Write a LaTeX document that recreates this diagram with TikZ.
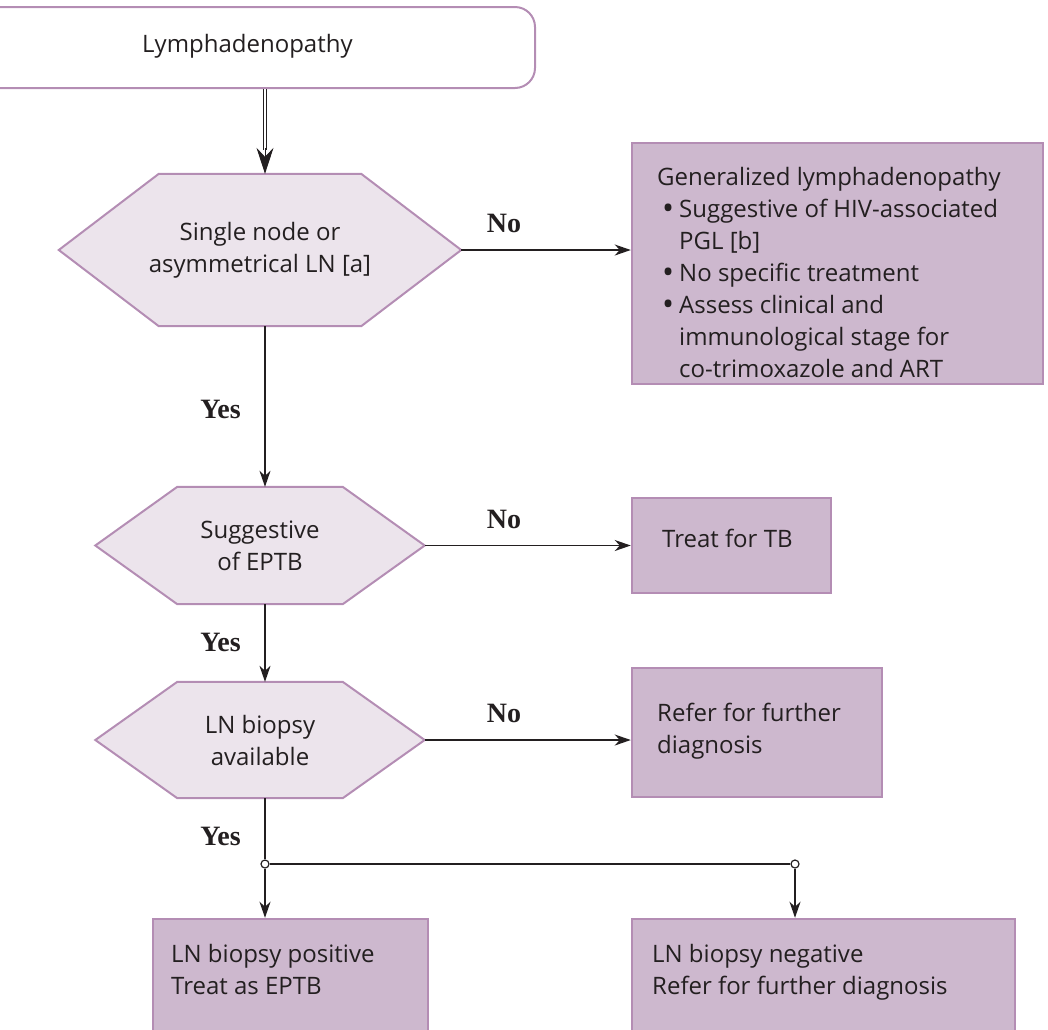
\documentclass[tikz,border=0pt]{standalone}
\usepackage{fontspec}
\setmainfont{Open Sans}
\newfontfamily\lblfont{Liberation Serif}
\usetikzlibrary{arrows.meta,backgrounds}
\definecolor{edgec}{HTML}{B48DB4}
\definecolor{hexfill}{HTML}{ECE4EC}
\definecolor{boxfill}{HTML}{CDB8CE}
\definecolor{ink}{HTML}{231F20}
\newcommand\mybul{\makebox[22pt][l]{\hspace{5pt}\raisebox{-2.5pt}{\fontsize{32}{32}\selectfont •}}}
\newcommand\myind{\hspace*{22pt}}
\begin{document}
\begin{tikzpicture}[x=1pt,y=-1pt,
  txt/.style={font=\fontsize{24}{32}\selectfont, text=ink, inner sep=0pt},
  hexnode/.style={font=\fontsize{24}{32}\selectfont, text=ink, align=center, inner sep=0pt},
  hexshape/.style={draw=edgec, fill=hexfill, line width=2pt},
  boxshape/.style={draw=edgec, fill=boxfill, line width=2.5pt, inner sep=0pt},
  lbl/.style={font=\lblfont\bfseries\fontsize{28}{28}\selectfont, text=ink, inner sep=0pt},
  conn/.style={line width=1.3pt, draw=ink},
  arr/.style={conn, -{Stealth[length=16pt,width=11pt,inset=5pt]}},
  bigarr/.style={line width=0.9pt, draw=ink, -{Stealth[length=26pt,width=17pt,inset=9pt]}},
  dbl/.style={draw=ink, double=white, double distance=2.5pt, line width=0.9pt},
  jdot/.style={circle, draw=ink, fill=white, line width=1.2pt, minimum size=8pt, inner sep=0pt},
]
\useasboundingbox (0,0) rectangle (1048,1029);

% start box
\node[draw=edgec, line width=2pt, rounded corners=20pt, minimum width=575pt, minimum height=81pt, inner sep=0pt] (top) at (247.5,47.5) {};
\node[txt, anchor=base west] (toptxt) at (142,52) {Lymphadenopathy};

% decision hexagons
\node[hexnode, minimum width=402pt, minimum height=152pt] (h1) at (260,250) {Single node or\\asymmetrical LN [a]};
\node[hexnode, minimum width=329pt, minimum height=117pt] (h2) at (260,545.5) {Suggestive\\of EPTB};
\node[hexnode, minimum width=329pt, minimum height=116pt] (h3) at (260,740) {LN biopsy\\available};

\begin{scope}[on background layer]
\foreach \n/\d in {h1/100,h2/82,h3/82}
  \filldraw[hexshape] (\n.west) -- ([xshift=\d pt]\n.north west) -- ([xshift=-\d pt]\n.north east) -- (\n.east) -- ([xshift=-\d pt]\n.south east) -- ([xshift=\d pt]\n.south west) -- cycle;
\end{scope}

% result boxes
\node[boxshape, minimum width=411pt, minimum height=241pt] (b1) at (837.5,263.5) {};
\node[boxshape, minimum width=199pt, minimum height=95pt] (b2) at (731.5,545.5) {};
\node[boxshape, minimum width=250pt, minimum height=129pt] (b3) at (757,732.5) {};
\node[boxshape, minimum width=275pt, minimum height=141pt] (b4) at (290.5,989.5) {};
\node[boxshape, minimum width=383pt, minimum height=141pt] (b5) at (823.5,989.5) {};

\node[txt, anchor=base west] (t1) at (657,185) {\vtop{\hbox{Generalized lymphadenopathy}
  \hbox{\mybul Suggestive of HIV-associated}
  \hbox{\myind PGL [b]}
  \hbox{\mybul No specific treatment}
  \hbox{\mybul Assess clinical and}
  \hbox{\myind immunological stage for}
  \hbox{\myind co-trimoxazole and ART}}};
\node[txt, anchor=base west] (t2) at (662,547) {Treat for TB};
\node[txt, anchor=base west] (t3) at (657,721) {\vtop{\hbox{Refer for further}\hbox{diagnosis}}};
\node[txt, anchor=base west] (t4) at (171,962) {\vtop{\hbox{LN biopsy positive}\hbox{Treat as EPTB}}};
\node[txt, anchor=base west] (t5) at (652,962) {\vtop{\hbox{LN biopsy negative}\hbox{Refer for further diagnosis}}};

% labels
\node[lbl, anchor=base] (no1) at (504,232) {No};
\node[lbl, anchor=base] (no2) at (504,528) {No};
\node[lbl, anchor=base] (no3) at (504,722) {No};
\node[lbl, anchor=base east] (yes1) at (241,418) {Yes};
\node[lbl, anchor=base east] (yes2) at (241,651) {Yes};
\node[lbl, anchor=base east] (yes3) at (241,845) {Yes};

% connectors
\coordinate (h1n) at ([xshift=5pt]h1.north);
\draw[dbl] (h1n |- top.south) -- ([yshift=24pt]h1n);
\draw[bigarr] ([yshift=26pt]h1n) -- (h1n);

\draw[arr] (h1.east) -- (h1.east -| b1.west);
\draw[arr] (h2.east) -- (h2.east -| b2.west);
\draw[arr] (h3.east) -- (h3.east -| b3.west);
\draw[arr] ([xshift=5pt]h1.south) -- ([xshift=5pt]h2.north);
\draw[arr] ([xshift=5pt]h2.south) -- ([xshift=5pt]h3.north);

\node[jdot] (j1) at (265,864) {};
\node[jdot] (j2) at (795,864) {};
\draw[conn] ([xshift=5pt]h3.south) -- (j1);
\draw[conn] (j1) -- (j2);
\draw[arr] (j1) -- (j1 |- b4.north);
\draw[arr] (j2) -- (j2 |- b5.north);
\end{tikzpicture}
\end{document}
